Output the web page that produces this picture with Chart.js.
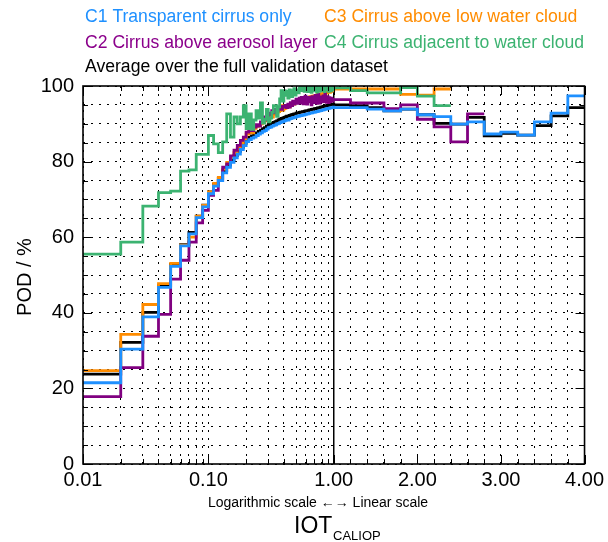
<!DOCTYPE html>
<html lang="en">
<head>
<meta charset="UTF-8">
<title>POD vs IOT</title>
<style>
    html, body { margin: 0; padding: 0; background: #fff; }
    #wrap { width: 608px; height: 542px; }
</style>
</head>
<body>
<div id="wrap"><canvas id="podChart" width="608" height="542"></canvas></div>
<script src="https://cdn.jsdelivr.net/npm/chart.js"></script>
<script>
    // bin edges: 0.01 wide on the log side, 0.2 wide on the linear side
    const logEdges = [];
    for (let i = 1; i <= 100; i++) logEdges.push(i / 100);
    const linEdges = [1.0, 1.2, 1.4, 1.6, 1.8, 2.0, 2.2, 2.4, 2.6, 2.8, 3.0, 3.2, 3.4, 3.6, 3.8, 4.0];

    // C1 Transparent cirrus only
    const c1Log = [21.5, 30.4, 38.9, 46.7, 52.3, 57.7, 60.9, 65.2, 68.0, 71.5,
        73.5, 75.0, 77.0, 78.5, 79.8, 81.0, 82.0, 83.2, 84.2, 85.3,
        85.8, 86.2, 86.5, 86.9, 87.3, 87.6, 88.0, 88.2, 88.6, 89.0,
        89.1, 89.4, 89.6, 89.7, 90.0, 90.1, 90.3, 90.5, 90.6, 90.8,
        90.9, 91.1, 91.0, 91.3, 91.4, 91.5, 91.6, 91.7, 91.7, 91.9,
        92.0, 92.0, 92.1, 92.2, 92.2, 92.3, 92.3, 92.4, 92.5, 92.5,
        92.6, 92.6, 92.7, 92.8, 92.8, 92.9, 92.9, 93.0, 93.0, 93.1,
        93.1, 93.2, 93.2, 93.3, 93.3, 93.4, 93.4, 93.5, 93.5, 93.6,
        93.6, 93.7, 93.7, 93.8, 93.8, 93.9, 93.9, 94.0, 94.0, 94.1,
        94.1, 94.1, 94.2, 94.2, 94.2, 94.3, 94.3, 94.3, 94.4];
    const c1Lin = [94.3, 94.3, 93.9, 93.4, 93.9, 92.4, 91.9, 89.9, 90.5, 87.3, 87.8, 87.0, 90.5, 92.8, 97.4];

    // C2 Cirrus above aerosol layer
    const c2Log = [17.8, 25.5, 33.8, 39.6, 48.9, 53.9, 58.7, 63.8, 67.1, 71.1,
        72.4, 75.0, 78.5, 79.4, 81.5, 83.0, 84.3, 85.6, 86.5, 87.8,
        88.7, 88.2, 89.1, 89.8, 89.4, 90.5, 91.2, 91.8, 91.0, 92.4,
        92.8, 93.5, 92.9, 93.8, 93.5, 94.0, 94.4, 93.8, 94.6, 94.4,
        94.9, 94.3, 95.2, 94.4, 95.6, 94.8, 96.0, 95.2, 95.8, 96.5,
        95.4, 96.2, 96.8, 95.5, 97.0, 96.1, 95.3, 96.9, 97.3, 96.0,
        95.2, 96.6, 97.0, 95.8, 96.4, 95.0, 97.2, 96.3, 95.6, 96.9,
        97.5, 96.2, 95.4, 96.8, 97.8, 96.0, 95.5, 97.1, 96.4, 95.8,
        96.6, 97.4, 95.9, 96.2, 97.9, 96.5, 95.7, 96.8, 97.2, 96.0,
        95.6, 96.9, 96.3, 95.9, 96.8, 96.1, 96.5, 96.0, 96.4];
    const c2Lin = [96.4, 95.5, 95.5, 94.0, 95.0, 91.2, 89.2, 85.2, 92.6];

    // C3 Cirrus above low water cloud
    const c3Log = [24.7, 34.3, 42.2, 47.7, 53.1, 57.9, 60.0, 65.6, 68.4, 72.0,
        74.2, 75.8, 78.0, 79.8, 81.2, 82.4, 83.5, 84.8, 86.0, 87.3,
        88.0, 87.6, 88.8, 89.3, 89.5, 90.0, 90.3, 90.8, 91.0, 91.5,
        92.0, 91.8, 92.5, 92.6, 93.0, 93.2, 93.5, 94.8, 93.6, 94.0,
        94.2, 94.5, 94.8, 94.5, 95.0, 95.2, 95.5, 95.2, 95.6, 95.8,
        95.9, 96.0, 96.2, 96.0, 96.4, 96.5, 96.3, 96.6, 96.8, 96.7,
        96.9, 97.0, 96.8, 97.1, 97.2, 97.0, 97.3, 97.2, 97.4, 97.3,
        97.5, 97.3, 97.6, 97.8, 97.5, 97.7, 97.9, 97.6, 97.8, 97.9,
        98.0, 97.8, 98.1, 98.2, 97.9, 98.2, 98.3, 98.1, 98.4, 98.3,
        98.5, 98.6, 98.3, 98.7, 98.8, 98.6, 98.9, 99.0, 98.8];
    const c3Lin = [99.2, 99.2, 99.2, 99.2, 97.8, 97.6, 99.2];

    // C4 Cirrus adjacent to water cloud
    const c4Log = [55.5, 58.7, 68.2, 71.8, 72.2, 77.5, 77.8, 81.9, 81.9, 86.9,
        84.7, 82.4, 85.2, 92.6, 86.5, 91.8, 90.0, 91.8, 94.8, 88.7,
        92.6, 88.5, 91.0, 93.5, 91.5, 95.5, 90.2, 91.2, 93.8, 90.5,
        91.5, 93.0, 94.8, 94.8, 92.0, 94.5, 96.6, 98.8, 96.0, 98.8,
        97.5, 98.6, 96.8, 99.0, 98.5, 97.2, 98.8, 99.3, 97.6, 98.4,
        99.0, 98.2, 99.5, 99.6, 98.8, 99.7, 99.2, 98.6, 99.5, 99.8,
        99.3, 98.5, 99.6, 99.8, 99.0, 98.3, 99.5, 99.9, 99.2, 98.7,
        99.6, 99.1, 98.4, 99.7, 99.8, 99.0, 98.6, 99.5, 99.9, 99.3,
        98.8, 99.6, 99.2, 98.5, 99.7, 99.4, 99.8, 98.9, 99.5, 99.2,
        98.6, 99.5, 99.8, 99.1, 98.7, 99.6, 99.3, 99.0, 99.4];
    const c4Lin = [99.5, 98.8, 98.2, 98.2, 99.6, 97.3, 94.8];

    // Average over the full validation dataset
    const avgLog = [23.8, 32.2, 40.1, 47.2, 52.8, 58.0, 61.3, 65.6, 68.5, 72.0,
        74.0, 75.6, 77.6, 79.1, 80.4, 81.6, 82.7, 83.8, 84.8, 85.9,
        86.4, 86.8, 87.2, 87.6, 88.0, 88.3, 88.7, 89.0, 89.4, 89.7,
        89.9, 90.2, 90.4, 90.6, 90.8, 91.0, 91.2, 91.4, 91.5, 91.7,
        91.8, 92.0, 92.0, 92.2, 92.3, 92.4, 92.5, 92.6, 92.6, 92.8,
        92.9, 92.9, 93.0, 93.1, 93.1, 93.2, 93.2, 93.3, 93.4, 93.4,
        93.5, 93.5, 93.6, 93.7, 93.7, 93.8, 93.8, 93.9, 93.9, 94.0,
        94.0, 94.1, 94.1, 94.2, 94.2, 94.3, 94.3, 94.4, 94.4, 94.5,
        94.5, 94.6, 94.6, 94.7, 94.7, 94.8, 94.8, 94.8, 94.9, 94.9,
        94.9, 95.0, 95.0, 95.0, 95.1, 95.1, 95.1, 95.2, 95.2];
    const avgLin = [95.0, 94.8, 94.3, 93.4, 93.9, 92.4, 90.1, 89.9, 91.7, 86.8, 87.5, 87.0, 89.5, 92.1, 94.3];

    const xGridValues = [0.01, 0.02, 0.03, 0.04, 0.05, 0.06, 0.07, 0.08, 0.09,
        0.1, 0.2, 0.3, 0.4, 0.5, 0.6, 0.7, 0.8, 0.9,
        1, 1.2, 1.4, 1.6, 1.8, 2, 2.2, 2.4, 2.6, 2.8, 3, 3.2, 3.4, 3.6, 3.8, 4];
    const xTickValues = [0.01, 0.1, 1, 2, 3, 4];
    const xTickLabels = ['0.01', '0.10', '1.00', '2.00', '3.00', '4.00'];

    const legendRows = [
        { text: 'C1 Transparent cirrus only', color: '#1e90ff', x: 85, y: 17 },
        { text: 'C3 Cirrus above low water cloud', color: '#ff8c00', x: 324, y: 17 },
        { text: 'C2 Cirrus above aerosol layer', color: '#8b008b', x: 85, y: 43 },
        { text: 'C4 Cirrus adjacent to water cloud', color: '#3cb371', x: 324, y: 43 },
        { text: 'Average over the full validation dataset', color: '#000000', x: 85, y: 67 }
    ];

    // log scale from 0.01 to 1, then linear from 1 to 4, each half 2 units wide
    function toU(x) {
        return x <= 1 ? Math.log10(x) + 2 : 2 + (x - 1) * 2 / 3;
    }
    const allEdges = logEdges.concat(linEdges.slice(1));

    function stepPoints(logVals, linVals) {
        const vals = logVals.concat(linVals);
        const pts = vals.map((v, i) => ({ x: toU(allEdges[i]), y: v }));
        pts.push({ x: toU(allEdges[vals.length]), y: vals[vals.length - 1] });
        return pts;
    }

    function series(label, color, pts) {
        return {
            label: label, data: pts, borderColor: color, borderWidth: 2.8,
            pointRadius: 0, fill: false, stepped: 'before', tension: 0
        };
    }

    const isOne = (ctx) => ctx.tick && Math.abs(ctx.tick.value - 2) < 1e-9;

    const decorPlugin = {
        id: 'decor',
        afterDatasetsDraw(chart) {
            const { ctx, chartArea: a, scales } = chart;
            ctx.save();
            ctx.strokeStyle = '#000';
            ctx.lineWidth = 1;
            ctx.beginPath();
            // inner ticks
            xGridValues.forEach(v => {
                const px = Math.round(scales.x.getPixelForValue(toU(v))) + 0.5;
                const major = xTickValues.some(t => Math.abs(t - v) < 1e-9);
                const len = major ? 9 : 5;
                ctx.moveTo(px, a.bottom); ctx.lineTo(px, a.bottom - len);
                ctx.moveTo(px, a.top); ctx.lineTo(px, a.top + len);
            });
            for (let v = 0; v <= 100; v += 5) {
                const py = Math.round(scales.y.getPixelForValue(v)) + 0.5;
                const len = v % 20 === 0 ? 9 : 5;
                ctx.moveTo(a.left, py); ctx.lineTo(a.left + len, py);
                ctx.moveTo(a.right, py); ctx.lineTo(a.right - len, py);
            }
            ctx.stroke();
            ctx.lineWidth = 1.6;
            ctx.strokeRect(a.left, a.top, a.right - a.left, a.bottom - a.top);
            ctx.restore();
        },
        afterDraw(chart) {
            const ctx = chart.ctx;
            ctx.save();
            ctx.textBaseline = 'middle';
            ctx.textAlign = 'left';
            ctx.font = '17.6px "Liberation Sans", Arial, sans-serif';
            legendRows.forEach(r => {
                ctx.fillStyle = r.color;
                ctx.fillText(r.text, r.x, r.y);
            });
            ctx.fillStyle = '#000';
            ctx.textAlign = 'center';
            ctx.font = '14px "Liberation Sans", Arial, sans-serif';
            ctx.fillText('Logarithmic scale \u2190\u2192 Linear scale', 318, 503);
            ctx.textAlign = 'left';
            ctx.textBaseline = 'alphabetic';
            ctx.font = '23px "Liberation Sans", Arial, sans-serif';
            ctx.fillText('IOT', 294, 533);
            ctx.font = '13px "Liberation Sans", Arial, sans-serif';
            ctx.fillText('CALIOP', 333, 540);
            ctx.translate(25, 277);
            ctx.rotate(-Math.PI / 2);
            ctx.textAlign = 'center';
            ctx.textBaseline = 'middle';
            ctx.font = '20px "Liberation Sans", Arial, sans-serif';
            ctx.fillText('POD / %', 0, 0);
            ctx.restore();
        }
    };

    Chart.defaults.font.family = '"Liberation Sans", Arial, sans-serif';
    Chart.defaults.color = '#000';

    const podChart = new Chart(document.getElementById('podChart'), {
        type: 'line',
        data: {
            datasets: [
                series('C4', '#3cb371', stepPoints(c4Log, c4Lin)),
                series('C1', '#1e90ff', stepPoints(c1Log, c1Lin)),
                series('C2', '#800080', stepPoints(c2Log, c2Lin)),
                series('C3', '#ff8c00', stepPoints(c3Log, c3Lin)),
                series('Average', '#000000', stepPoints(avgLog, avgLin))
            ]
        },
        options: {
            responsive: false,
            devicePixelRatio: 1,
            animation: false,
            events: [],
            layout: { padding: { top: 86, right: 21, left: 0, bottom: 0 } },
            plugins: { legend: { display: false }, tooltip: { enabled: false } },
            scales: {
                x: {
                    type: 'linear', min: 0, max: 4,
                    afterBuildTicks: (scale) => { scale.ticks = xGridValues.map(v => ({ value: toU(v) })); },
                    afterFit: (scale) => { scale.height = 78; },
                    ticks: {
                        autoSkip: false, maxRotation: 0, padding: 4,
                        font: { size: 20 },
                        callback: (value) => {
                            const k = xTickValues.findIndex(t => Math.abs(toU(t) - value) < 1e-9);
                            return k >= 0 ? xTickLabels[k] : '';
                        }
                    },
                    grid: {
                        color: '#000', drawTicks: false,
                        lineWidth: (ctx) => isOne(ctx) ? 1.5 : 1
                    },
                    border: { display: false, dash: (ctx) => isOne(ctx) ? [] : [2, 6] }
                },
                y: {
                    min: 0, max: 100,
                    afterFit: (scale) => { scale.width = 83; },
                    ticks: {
                        stepSize: 5, autoSkip: false, padding: 9,
                        font: { size: 20 },
                        callback: (value) => value % 20 === 0 ? value : ''
                    },
                    grid: { color: '#000', drawTicks: false, lineWidth: 1 },
                    border: { display: false, dash: [2, 6] }
                }
            }
        },
        plugins: [decorPlugin]
    });
</script>
</body>
</html>
